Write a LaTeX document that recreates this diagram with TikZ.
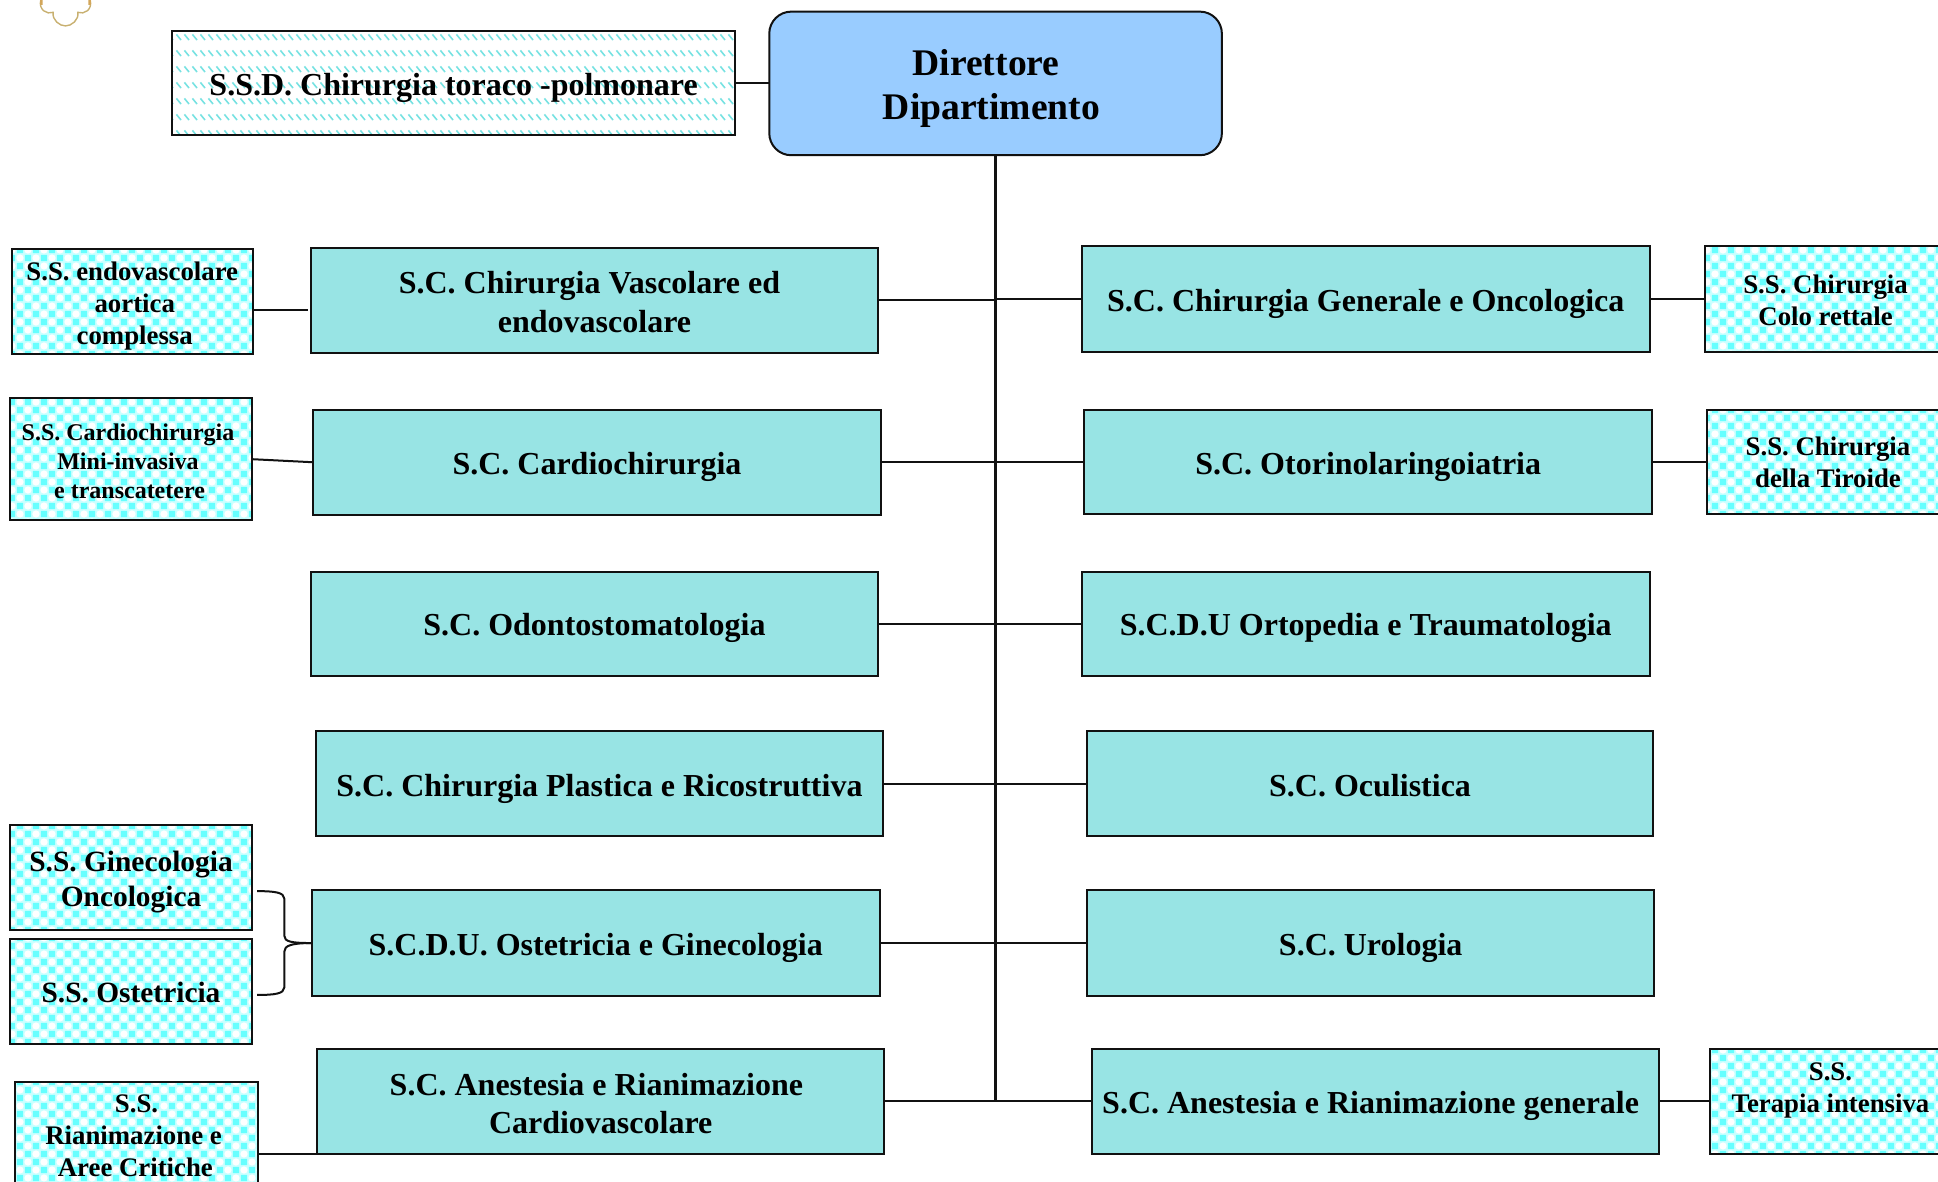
\documentclass[tikz,border=0pt]{standalone}
\usepackage{fontspec}
\setmainfont{Liberation Serif}
\usetikzlibrary{patterns}
\definecolor{maincol}{HTML}{98E4E4}
\definecolor{dircol}{HTML}{99CCFF}
\definecolor{chkcol}{HTML}{66FFFF}
\definecolor{ringcol}{HTML}{CCFFFF}
\definecolor{hatchcol}{HTML}{77E2E2}
\definecolor{linecol}{HTML}{111111}
\definecolor{logocol}{HTML}{C8B070}
\pgfdeclarepatterninherentlycolored{checkpat}{\pgfqpoint{0pt}{0pt}}{\pgfqpoint{8pt}{8pt}}{\pgfqpoint{8pt}{8pt}}{%
  \pgfsetfillcolor{ringcol}\pgfpathrectangle{\pgfqpoint{0pt}{0pt}}{\pgfqpoint{8pt}{8pt}}\pgfusepath{fill}%
  \pgfsetfillcolor{chkcol}%
  \pgfpathrectangle{\pgfqpoint{0.4pt}{0.4pt}}{\pgfqpoint{3.2pt}{3.2pt}}%
  \pgfpathrectangle{\pgfqpoint{4.4pt}{4.4pt}}{\pgfqpoint{3.2pt}{3.2pt}}\pgfusepath{fill}%
  \pgfsetfillcolor{white}%
  \pgfpathcircle{\pgfqpoint{6pt}{2pt}}{1.8pt}\pgfpathcircle{\pgfqpoint{2pt}{6pt}}{1.8pt}\pgfusepath{fill}%
}
\pgfdeclarepatterninherentlycolored{hatchpat}{\pgfqpoint{0pt}{0pt}}{\pgfqpoint{4pt}{8pt}}{\pgfqpoint{4pt}{8pt}}{%
  \pgfsetfillcolor{white}\pgfpathrectangle{\pgfqpoint{0pt}{0pt}}{\pgfqpoint{4pt}{8pt}}\pgfusepath{fill}%
  \pgfsetstrokecolor{hatchcol}\pgfsetlinewidth{0.8pt}%
  \pgfpathmoveto{\pgfqpoint{0.7pt}{5.8pt}}\pgfpathlineto{\pgfqpoint{3.0pt}{3pt}}\pgfusepath{stroke}%
}
\tikzset{
  basebox/.style={draw=linecol,line width=1pt,inner sep=0pt,outer sep=0pt,align=center,text=black},
  mainbox/.style={basebox,fill=maincol,font=\fontsize{16}{19.2}\selectfont\bfseries},
  mainone/.style={mainbox,text height=12.4pt,text depth=0pt},
  dirbox/.style={basebox,fill=dircol,rounded corners=11pt,font=\fontsize{18.8}{22}\selectfont\bfseries},
  hatchbox/.style={basebox,pattern=hatchpat,font=\fontsize{16}{19}\selectfont\bfseries,text height=12.4pt,text depth=0pt},
  chkbox/.style={basebox,pattern=checkpat,font=\fontsize{13.4}{16}\selectfont\bfseries},
  chksmall/.style={chkbox,font=\fontsize{12}{14.5}\selectfont\bfseries},
  chkbig/.style={chkbox,font=\fontsize{14.7}{17.3}\selectfont\bfseries},
  conn/.style={draw=linecol,line width=1pt},
  trunk/.style={draw=linecol,line width=1.3pt},
}
% style, name, x1, y1, x2, y2, text
\newcommand{\bx}[7]{%
  \pgfmathsetmacro{\cxv}{(#3+#5)/2}\pgfmathsetmacro{\cyv}{(#4+#6)/2}%
  \pgfmathsetmacro{\wv}{(#5-#3)*0.618-0.5}\pgfmathsetmacro{\hv}{(#6-#4)*0.618-0.5}%
  \node[#1,minimum width=\wv pt,minimum height=\hv pt] (#2) at (\cxv,\cyv) {#7};%
}
\newcommand{\tp}[1]{\rule{0pt}{#1pt}}
\newcommand{\lk}[2]{\mbox{#2\kern#1pt}}
\newcommand{\rk}[2]{\mbox{\kern#1pt #2}}
\begin{document}
\begin{tikzpicture}[x=0.618pt,y=-0.618pt]
\clip (0,0) rectangle (1568,956.3);
% logo fragment
\draw[draw=logocol,fill=white,line width=0.7pt]
  (33,0) .. controls (31,8) and (38,12) .. (43,10)
  .. controls (42,16) and (48,21) .. (53,21)
  .. controls (58,21) and (64,16) .. (63,10)
  .. controls (68,12) and (75,8) .. (73,0);
\fill[logocol!80!orange] (32.5,0) rectangle (34.5,4) (71.5,0) rectangle (73.5,4);
% boxes
\bx{dirbox}{dir}{622}{9}{989}{126}{\tp{17.7}\lk{9.5}{Direttore}\\\lk{4}{Dipartimento}}
\bx{hatchbox}{ssd}{139}{25}{595}{110}{S.S.D. Chirurgia toraco -polmonare}
\bx{mainbox}{La}{251}{200}{711}{286}{\tp{12.9}\lk{5}{S.C. Chirurgia Vascolare ed}\\endovascolare}
\bx{mainone}{Lb}{253}{331}{713}{417}{S.C. Cardiochirurgia}
\bx{mainone}{Lc}{251}{462}{711}{547}{S.C. Odontostomatologia}
\bx{mainone}{Ld}{255}{591}{715}{677}{S.C. Chirurgia Plastica e Ricostruttiva}
\bx{mainone}{Le}{252}{720}{712}{806}{S.C.D.U. Ostetricia e Ginecologia}
\bx{mainbox}{Lf}{256}{848}{716}{934}{\tp{13.3}\lk{4.3}{S.C. Anestesia e Rianimazione}\\Cardiovascolare}
\bx{mainone}{Ra}{875}{199}{1335}{285}{S.C. Chirurgia Generale e Oncologica}
\bx{mainone}{Rb}{877}{331}{1337}{416}{S.C. Otorinolaringoiatria}
\bx{mainone}{Rc}{875}{462}{1335}{547}{S.C.D.U Ortopedia e Traumatologia}
\bx{mainone}{Rd}{879}{591}{1338}{677}{S.C. Oculistica}
\bx{mainone}{Re}{879}{720}{1339}{806}{S.C. Urologia}
\bx{mainone}{Rf}{883}{848}{1343}{934}{\lk{5}{S.C. Anestesia e Rianimazione generale}}
\bx{chkbox}{endo}{9}{201}{205}{287}{\tp{14}S.S. endovascolare\\\rk{2.5}{aortica}\\\rk{2.5}{complessa}}
\bx{chksmall}{cardio}{8}{322}{204}{421}{\tp{10.6}\lk{3}{S.S. Cardiochirurgia}\\\lk{3}{Mini-invasiva}\\\lk{1.5}{e transcatetere}}
\bx{chkbig}{gine}{8}{667}{204}{753}{\tp{14.9}S.S. Ginecologia\\Oncologica}
\bx{chkbig}{oste}{8}{759}{204}{845}{\tp{11.2}S.S. Ostetricia}
\bx{chkbox}{rian}{12}{875}{209}{960}{\tp{10.3}S.S.\\\lk{3}{Rianimazione e}\\\lk{1.2}{Aree Critiche}}
\bx{chkbox}{colo}{1379}{199}{1575}{285}{\tp{10.3}S.S. Chirurgia\\Colo rettale}
\bx{chkbox}{tiro}{1381}{331}{1577}{416}{\tp{10.3}S.S. Chirurgia\\della Tiroide}
\bx{chkbox}{tera}{1383}{848}{1579}{934}{\tp{11.6}S.S.\\Terapia intensiva\\\mbox{}}
% trunk
\draw[trunk] (dir.south) -- (dir.south |- Lf.east) coordinate (tend);
% connectors
\draw[conn] (ssd.east) -- (dir.west);
\foreach \n in {La,Lb,Lc,Ld,Le,Lf}{\draw[conn] (\n.east) -- (\n.east -| dir.south);}
\foreach \n in {Ra,Rb,Rc,Rd,Re,Rf}{\draw[conn] (\n.west) -- (\n.west -| dir.south);}
\coordinate (endoc) at (249,251);
\draw[conn] (endo.east |- endoc) -- (endoc);
\draw[conn] (cardio.east) -- (Lb.west);
\draw[conn] (rian.east |- Lf.south west) -- (Lf.south west);
\draw[conn] (Ra.east) -- (colo.west);
\draw[conn] (Rb.east) -- (tiro.west);
\draw[conn] (Rf.east) -- (tera.west);
% brace
\coordinate (bt) at (208,721);
\coordinate (bb) at (208,805);
\draw[conn] (bt) .. controls (222,721) and (230,722) .. (230,727)
  -- (230,757) .. controls (230,762) and (236,763) .. (Le.west);
\draw[conn] (bb) .. controls (222,805) and (230,804) .. (230,799)
  -- (230,770) .. controls (230,765) and (236,763) .. (Le.west);
\end{tikzpicture}
\end{document}
